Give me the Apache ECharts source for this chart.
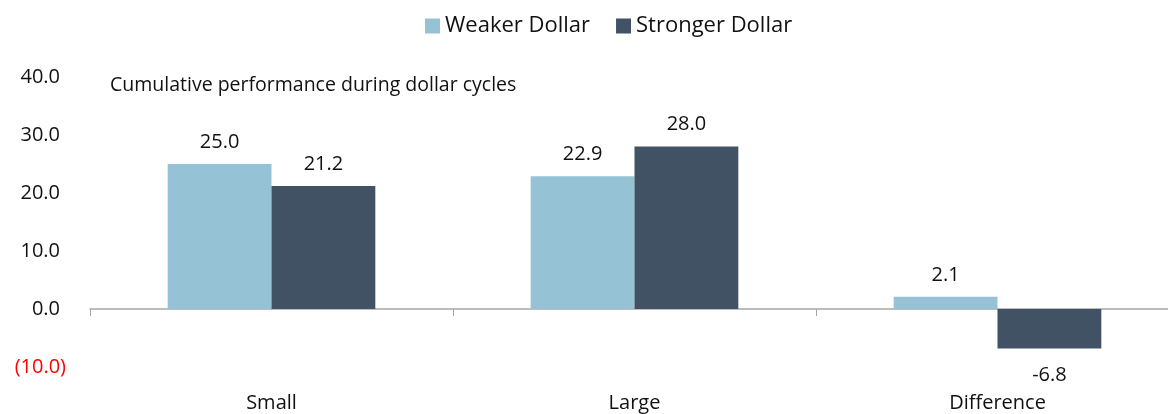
<!DOCTYPE html>
<html>
<head>
<meta charset="utf-8">
<script src="https://cdn.jsdelivr.net/npm/echarts@6/dist/echarts.min.js"></script>
<style>
  html, body { margin: 0; padding: 0; background: #fff; }
  #chart { width: 1168px; height: 414px; }
</style>
</head>
<body>
<div id="chart"></div>
<script>
// 数据
const categories = ['Small', 'Large', 'Difference'];
const weakerDollar = [25.0, 22.9, 2.1];
const strongerDollar = [21.2, 28.0, -6.8];
const seriesNames = ['Weaker Dollar', 'Stronger Dollar'];
const chartNote = 'Cumulative performance during dollar cycles';

const font = '"Open Sans", "Noto Sans", sans-serif';

// 负数标签放到柱子下面
const toData = (arr) => arr.map((v) => ({
    value: v,
    label: v < 0 ? { position: 'bottom', distance: 17 } : { position: 'top' }
}));

const barLabel = {
    show: true,
    distance: 12,
    fontSize: 20,
    color: '#111',
    fontFamily: font,
    formatter: (p) => p.value.toFixed(1)
};

const myChart = echarts.init(document.getElementById('chart'));

const option = {
    animation: false,
    textStyle: { fontFamily: font },
    color: ['#95C3D5', '#415264'],
    legend: {
        top: 10,
        left: 420,
        itemWidth: 15,
        itemHeight: 15,
        itemGap: 26,
        itemStyle: { borderWidth: 0 },
        icon: 'rect',
        textStyle: { fontSize: 22, color: '#111', fontFamily: font },
        data: seriesNames
    },
    title: {
        text: chartNote,
        left: 105,
        top: 70,
        textStyle: { fontSize: 19.5, fontWeight: 'normal', color: '#111', fontFamily: font }
    },
    grid: {
        left: 90,
        top: 77,
        bottom: 47,
        width: 1089,
        outerBoundsMode: 'none',
        containLabel: false
    },
    xAxis: [
        {
            // 零线和刻度
            type: 'category',
            data: categories,
            axisLine: { onZero: true, lineStyle: { color: '#A6A6A6', width: 1.5 } },
            axisTick: { show: true, length: 7, lineStyle: { color: '#A6A6A6' } },
            axisLabel: { show: false }
        },
        {
            // 底部类目文字
            type: 'category',
            data: categories,
            position: 'bottom',
            axisLine: { show: false, onZero: false },
            axisTick: { show: false },
            axisLabel: { margin: 26, fontSize: 20, color: '#111', fontFamily: font }
        }
    ],
    yAxis: {
        type: 'value',
        min: -10,
        max: 40,
        interval: 10,
        axisLine: { show: false },
        axisTick: { show: false },
        splitLine: { show: false },
        axisLabel: {
            margin: 24,
            fontSize: 20,
            fontFamily: font,
            formatter: (v) => (v < 0 ? '{neg|(' + (-v).toFixed(1) + ')}' : '{pos|' + v.toFixed(1) + '}'),
            rich: {
                pos: { fontSize: 20, color: '#111', fontFamily: font, padding: [0, 6, 0, 0] },
                neg: { fontSize: 20, color: '#FF0000', fontFamily: font }
            }
        }
    },
    series: [
        {
            name: seriesNames[0],
            type: 'bar',
            barWidth: '28.6%',
            barGap: '0%',
            data: toData(weakerDollar),
            label: barLabel
        },
        {
            name: seriesNames[1],
            type: 'bar',
            barWidth: '28.6%',
            barGap: '0%',
            data: toData(strongerDollar),
            label: barLabel
        }
    ]
};

myChart.setOption(option);
</script>
</body>
</html>
